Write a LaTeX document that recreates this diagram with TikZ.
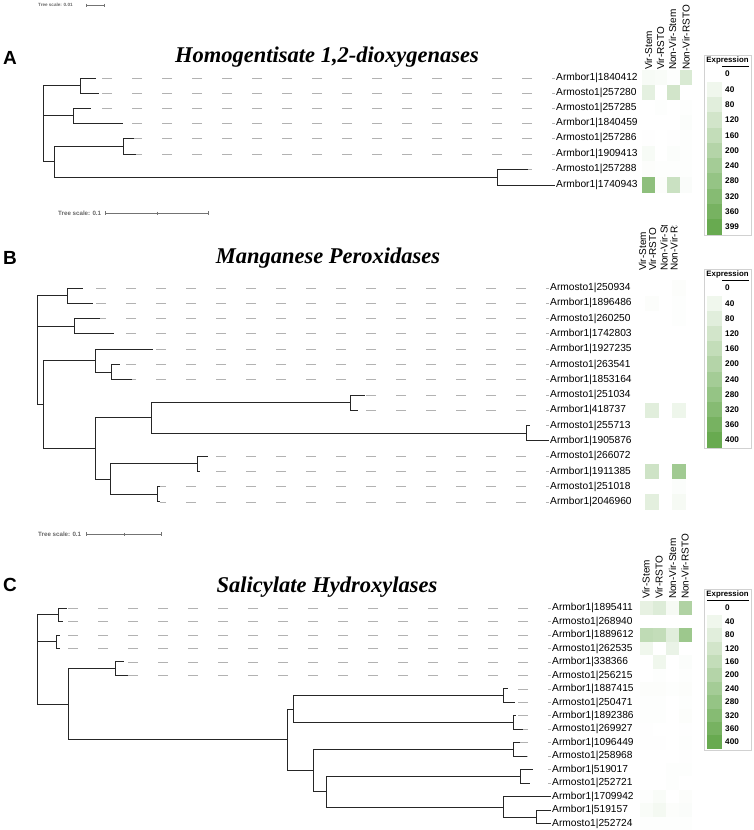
\documentclass[tikz,border=0pt]{standalone}
\usepackage{fontspec}
\setmainfont{Liberation Sans}
\newfontfamily\titlefont{Liberation Serif}
\usetikzlibrary{calc}

\definecolor{hmgreen}{RGB}{104,170,80}
\definecolor{leadgray}{RGB}{178,178,178}

\tikzset{
  br/.style={draw=black!85, line width=0.9pt},
  lead/.style={draw=leadgray, line width=0.8pt, dash pattern=on 10pt off 20pt, dash phase=7pt},
  lab/.style={anchor=west, inner sep=1pt, font=\fontsize{10.2}{12}\selectfont},
  hdr/.style={rotate=90, anchor=west, inner sep=0pt, font=\fontsize{10}{12}\selectfont},
  ttl/.style={anchor=base, inner sep=0pt, font=\titlefont\fontsize{22.5}{26}\selectfont\bfseries\itshape},
  panel/.style={anchor=west, inner sep=0pt, font=\fontsize{19}{22}\selectfont\bfseries},
  scl/.style={anchor=west, inner sep=0pt, text=black!60, font=\fontsize{6.2}{7}\selectfont\bfseries},
  sclbar/.style={draw=black!55, line width=0.6pt},
  key/.style={anchor=west, inner sep=0pt, font=\fontsize{8.2}{9}\selectfont\bfseries},
  keyhead/.style={anchor=center, inner sep=0pt, font=\fontsize{7.8}{9}\selectfont\bfseries},
}

% expression key: #1 prefix, #2 first row y, #3 row step, #4 top value
\newcommand{\exprkey}[4]{
  \draw[black!18] (704,#2-19) rectangle (751,#2+10.5*#3+1);
  \node[keyhead] (#1head) at (727.5,#2-14) {Expression};
  \draw[line width=0.8pt] (707,#2-8) -- (749,#2-8);
  \foreach \k/\t in {0/0,1/40,2/80,3/120,4/160,5/200,6/240,7/280,8/320,9/360,10/#4}{
    \pgfmathsetmacro\p{10*\k}
    \fill[hmgreen!\p!white] (707,#2+#3*\k-#3/2) rectangle ++(15,#3);
    \node[key] (#1\k) at (725,#2+#3*\k) {\t};
  }
}

\begin{document}
\begin{tikzpicture}[x=1pt, y=-1pt]
\useasboundingbox (0,0) rectangle (754,830);

%%% A %%%
\node[scl, font=\fontsize{4.6}{5}\selectfont\bfseries] (sA0) at (38,5) {Tree scale: 0.01};
\draw[sclbar] (86,5) -- (104,5) (86,3.5) -- (86,6.5) (104,3.5) -- (104,6.5);
\node[panel] (pA) at (3,57.5) {A};
\node[ttl] (tiA) at (327,62) {Homogentisate 1,2-dioxygenases};

\foreach \n/\y/\t in {1/78/Armbor1|1840412, 2/93/Armosto1|257280, 3/108/Armosto1|257285,
    4/123/Armbor1|1840459, 5/138/Armosto1|257286, 6/154/Armbor1|1909413,
    7/169/Armosto1|257288, 8/185/Armbor1|1740943}
  \node[lab] (la\n) at (555,\y) {\t};
\foreach \n/\x/\y in {1/96/78, 2/99/93, 3/91/108, 4/123/123, 5/134/138, 6/136/154, 7/528/169}
  \coordinate (ta\n) at (\x,\y);

\coordinate (ra) at (43,123);
\coordinate (a1) at (80,85.5);
\coordinate (a2) at (73,115.5);
\coordinate (a3) at (54,161.5);
\coordinate (a4) at (123,146);
\coordinate (a5) at (497,177);

\foreach \n in {1,...,7}
  \draw[lead] (la\n.west) -- (ta\n);
\draw[br] (ra) |- (a1) (ra) |- (a2) (ra) |- (a3)
  (a1) |- (ta1) (a1) |- (ta2)
  (a2) |- (ta3) (a2) |- (ta4)
  (a3) |- (a4) (a3) |- (a5)
  (a4) |- (ta5) (a4) |- (ta6)
  (a5) |- (ta7) (a5) |- (la8.west);

\foreach \x/\t in {648.5/Vir-Stem, 660.5/Vir-RSTO, 672.5/Non-Vir-Stem, 686/Non-Vir-RSTO}
  \node[hdr] (hA\t) at (\x,70) {\t};
\foreach \y/\va/\vb/\vc/\vd in {78/20/15/5/100, 93/70/0/120/0, 108/0/5/0/5, 123/0/0/0/10,
    138/3/0/3/5, 154/20/0/10/5, 169/8/5/5/5, 185/300/8/140/12}{
  \foreach \v [count=\k from 0] in {\va,\vb,\vc,\vd}{
    \pgfmathsetmacro\p{\v/4}
    \fill[hmgreen!\p!white] (642+12.6*\k,\y-7.65) rectangle ++(12.6,15.3);
  }
}
\exprkey{kA}{74}{15.3}{399}

\node[scl] (sA1) at (58,213) {Tree scale: 0.1};
\draw[sclbar] (105,213) -- (208,213) (105,211) -- (105,215) (157,211.5) -- (157,214.5) (208,211) -- (208,215);

%%% B %%%
\node[panel] (pB) at (3,257.5) {B};
\node[ttl] (tiB) at (328,263) {Manganese Peroxidases};

\foreach \n/\y/\t in {1/288/Armosto1|250934, 2/303.3/Armbor1|1896486, 3/318.6/Armosto1|260250,
    4/333.8/Armbor1|1742803, 5/349.1/Armbor1|1927235, 6/364.4/Armosto1|263541,
    7/379.7/Armbor1|1853164, 8/395/Armosto1|251034, 9/410.2/Armbor1|418737,
    10/425.5/Armosto1|255713, 11/440.8/Armbor1|1905876, 12/456.1/Armosto1|266072,
    13/471.4/Armbor1|1911385, 14/486.6/Armosto1|251018, 15/501.9/Armbor1|2046960}
  \node[lab] (lb\n) at (549,\y) {\t};
\foreach \n/\x/\y in {1/83/288, 2/93/303.3, 3/100/318.6, 4/114/333.8, 5/153/349.1,
    6/120/364.4, 7/132/379.7, 8/365/395, 9/358/410.2, 10/530/425.5,
    12/208/456.1, 13/200/471.4, 14/160/486.6, 15/160/501.9}
  \coordinate (tb\n) at (\x,\y);

\coordinate (rb) at (37,350);
\coordinate (b1) at (67,295.6);
\coordinate (b2) at (74,326.2);
\coordinate (b3) at (43,404.5);
\coordinate (b4) at (95,360.6);
\coordinate (b5) at (95,448.5);
\coordinate (b6) at (111,372);
\coordinate (b7) at (151,417.9);
\coordinate (b8) at (110,479);
\coordinate (b9) at (350,402.6);
\coordinate (b10) at (526,433.2);
\coordinate (b11) at (197,463.8);
\coordinate (b12) at (157,494.3);

\foreach \n in {1,...,10,12,13,14,15}
  \draw[lead] (lb\n.west) -- (tb\n);
\draw[br] (rb) |- (b1) (rb) |- (b2) (rb) |- (b3)
  (b1) |- (tb1) (b1) |- (tb2)
  (b2) |- (tb3) (b2) |- (tb4)
  (b3) |- (b4) (b3) |- (b5)
  (b4) |- (tb5) (b4) |- (b6)
  (b6) |- (tb6) (b6) |- (tb7)
  (b5) |- (b7) (b5) |- (b8)
  (b7) |- (b9) (b7) |- (b10)
  (b9) |- (tb8) (b9) |- (tb9)
  (b10) |- (tb10) (b10) |- (lb11.west)
  (b8) |- (b11) (b8) |- (b12)
  (b11) |- (tb12) (b11) |- (tb13)
  (b12) |- (tb14) (b12) |- (tb15);

% headers cut off by the key above
\begin{scope}
  \clip (620,225) rectangle (700,280);
  \foreach \x/\t in {642.5/Vir-Stem, 652.5/Vir-RSTO, 664/Non-Vir-Stem, 674/Non-Vir-RSTO}
    \node[hdr] (hB\t) at (\x,271) {\t};
\end{scope}
\foreach \y/\va/\vb/\vc/\vd in {288/0/0/0/8, 303.3/0/8/0/5, 318.6/0/0/0/5, 410.2/0/80/0/45,
    471.4/0/130/0/250, 486.6/0/0/0/10, 501.9/0/75/0/25}{
  \foreach \v [count=\k from 0] in {\va,\vb,\vc,\vd}{
    \pgfmathsetmacro\p{\v/4}
    \fill[hmgreen!\p!white] (632+13.4*\k,\y-7.65) rectangle ++(13.4,15.3);
  }
}
\exprkey{kB}{288}{15.2}{400}

\node[scl] (sC0) at (38,534) {Tree scale: 0.1};
\draw[sclbar] (86,534) -- (161,534) (86,532) -- (86,536) (124,532.5) -- (124,535.5) (161,532) -- (161,536);

%%% C %%%
\node[panel] (pC) at (3,585) {C};
\node[ttl] (tiC) at (327,592) {Salicylate Hydroxylases};

\foreach \n/\y/\t in {1/608/Armbor1|1895411, 2/621.5/Armosto1|268940, 3/635/Armbor1|1889612,
    4/648.4/Armosto1|262535, 5/661.9/Armbor1|338366, 6/675.4/Armosto1|256215,
    7/688.9/Armbor1|1887415, 8/702.4/Armosto1|250471, 9/715.8/Armbor1|1892386,
    10/729.3/Armosto1|269927, 11/742.8/Armbor1|1096449, 12/756.3/Armosto1|258968,
    13/769.8/Armbor1|519017, 14/783.2/Armosto1|252721, 15/796.7/Armbor1|1709942,
    16/810.2/Armbor1|519157, 17/823.7/Armosto1|252724}
  \node[lab] (lc\n) at (551,\y) {\t};
\foreach \n/\x/\y in {1/67/608, 2/63/621.5, 3/60/635, 4/60/648.4, 5/124/661.9, 6/128/675.4,
    7/508/688.9, 8/515/702.4, 9/516/715.8, 10/523/729.3, 11/520/742.8, 12/527/756.3,
    13/533/769.8, 14/530/783.2}
  \coordinate (tc\n) at (\x,\y);

\coordinate (rc) at (37,660);
\coordinate (c1) at (58,614.8);
\coordinate (c2) at (56,641.7);
\coordinate (c3) at (68,704.3);
\coordinate (c4) at (115,668.6);
\coordinate (c5) at (287,739.9);
\coordinate (c6) at (293,709.1);
\coordinate (c7) at (313,770.6);
\coordinate (c8) at (503,695.6);
\coordinate (c9) at (513,722.6);
\coordinate (c10) at (513,749.5);
\coordinate (c11) at (326,791.7);
\coordinate (c12) at (520,776.5);
\coordinate (c13) at (503,807);
\coordinate (c14) at (536,817);

\foreach \n in {1,...,14}
  \draw[lead] (lc\n.west) -- (tc\n);
\draw[br] (rc) |- (c1) (rc) |- (c2) (rc) |- (c3)
  (c1) |- (tc1) (c1) |- (tc2)
  (c2) |- (tc3) (c2) |- (tc4)
  (c3) |- (c4) (c3) |- (c5)
  (c4) |- (tc5) (c4) |- (tc6)
  (c5) |- (c6) (c5) |- (c7)
  (c6) |- (c8) (c6) |- (c9)
  (c8) |- (tc7) (c8) |- (tc8)
  (c9) |- (tc9) (c9) |- (tc10)
  (c7) |- (c10) (c7) |- (c11)
  (c10) |- (tc11) (c10) |- (tc12)
  (c11) |- (c12) (c11) |- (c13)
  (c12) |- (tc13) (c12) |- (tc14)
  (c13) |- (lc15.west) (c13) |- (c14)
  (c14) |- (lc16.west) (c14) |- (lc17.west);

\foreach \x/\t in {646/Vir-Stem, 659/Vir-RSTO, 672.5/Non-Vir-Stem, 685/Non-Vir-RSTO}
  \node[hdr] (hC\t) at (\x,599) {\t};
\foreach \y/\va/\vb/\vc/\vd in {608/65/90/25/210, 635/170/160/80/260, 648.4/40/0/55/0,
    661.9/0/40/0/10, 675.4/0/5/0/5, 688.9/8/8/5/8, 702.4/5/5/0/5, 715.8/5/5/0/8,
    729.3/3/0/0/3, 742.8/3/3/0/5, 756.3/0/0/0/3, 769.8/0/0/5/5, 783.2/0/0/5/0,
    796.7/5/15/0/8, 810.2/15/30/8/12, 823.7/5/5/5/5}{
  \foreach \v [count=\k from 0] in {\va,\vb,\vc,\vd}{
    \pgfmathsetmacro\p{\v/4}
    \fill[hmgreen!\p!white] (640+13*\k,\y-6.75) rectangle ++(13,13.5);
  }
}
\exprkey{kC}{608}{13.4}{400}

\end{tikzpicture}
\end{document}
